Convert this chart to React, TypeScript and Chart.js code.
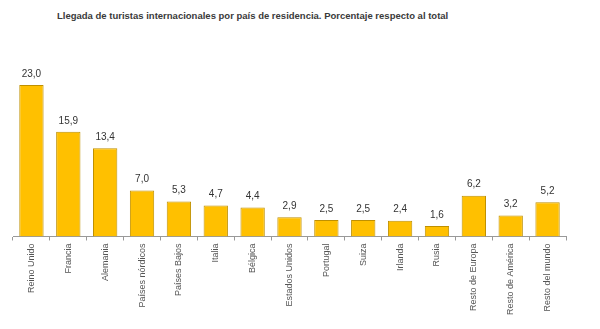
import React, { useEffect, useRef } from "react";
import { Chart, registerables } from "chart.js";

Chart.register(...registerables);

const categories = [
  "Reino Unido",
  "Francia",
  "Alemania",
  "Países nórdicos",
  "Países Bajos",
  "Italia",
  "Bélgica",
  "Estados Unidos",
  "Portugal",
  "Suiza",
  "Irlanda",
  "Rusia",
  "Resto de Europa",
  "Resto de América",
  "Resto del mundo",
];

const values = [23.0, 15.9, 13.4, 7.0, 5.3, 4.7, 4.4, 2.9, 2.5, 2.5, 2.4, 1.6, 6.2, 3.2, 5.2];

const titleText =
  "Llegada de turistas internacionales por país de residencia. Porcentaje respecto al total";

const valueLabelPlugin = {
  id: "valueLabels",
  afterDatasetsDraw(chart: any) {
    const ctx = chart.ctx;
    const meta = chart.getDatasetMeta(0);
    ctx.save();
    ctx.font = "10px 'Liberation Sans', Arial, sans-serif";
    ctx.fillStyle = "#333333";
    ctx.textAlign = "center";
    ctx.textBaseline = "bottom";
    meta.data.forEach((bar: any, i: number) => {
      const v = values[i].toFixed(1).replace(".", ",");
      ctx.fillText(v, bar.x, bar.y - 6);
    });
    ctx.restore();
  },
};

export default function App() {
  const canvasRef = useRef<HTMLCanvasElement | null>(null);

  useEffect(() => {
    if (!canvasRef.current) return;
    const chart = new Chart(canvasRef.current, {
      type: "bar",
      data: {
        labels: categories,
        datasets: [
          {
            data: values,
            backgroundColor: "#FFC000",
            borderColor: "#BF9000",
            borderWidth: 1,
            barPercentage: 0.66,
            categoryPercentage: 1,
          },
        ],
      },
      options: {
        responsive: false,
        animation: false,
        devicePixelRatio: 1,
        layout: { padding: { left: 13, right: 34, top: 60, bottom: 11 } },
        plugins: {
          legend: { display: false },
          title: { display: false },
          tooltip: { enabled: false },
        },
        scales: {
          x: {
            grid: {
              display: true,
              drawOnChartArea: false,
              offset: true,
              tickLength: 4,
              color: "#999999",
            },
            border: { display: true, color: "#999999" },
            ticks: {
              maxRotation: 90,
              minRotation: 90,
              autoSkip: false,
              padding: 3,
              color: "#555555",
              font: { family: "'Liberation Sans', Arial, sans-serif", size: 9 },
            },
          },
          y: {
            display: false,
            min: 0,
            max: 26.8,
          },
        },
      },
      plugins: [valueLabelPlugin],
    });
    return () => chart.destroy();
  }, []);

  return (
    <div style={{ position: "absolute", left: 0, top: 0, width: 600, height: 329, background: "#ffffff" }}>
      <div
        style={{
          position: "absolute",
          left: 57,
          top: 10,
          fontFamily: "'Liberation Sans', Arial, sans-serif",
          fontSize: 9.5,
          fontWeight: "bold",
          color: "#3a3a3a",
          whiteSpace: "nowrap",
        }}
      >
        {titleText}
      </div>
      <canvas ref={canvasRef} width={600} height={329} style={{ position: "absolute", left: 0, top: 0 }} />
    </div>
  );
}
